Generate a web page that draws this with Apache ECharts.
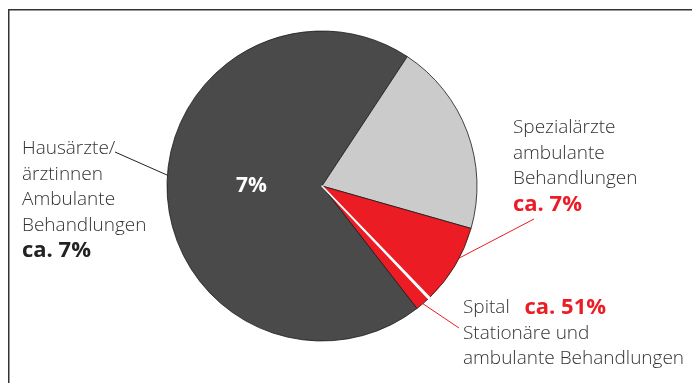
<!DOCTYPE html>
<html>
<head>
<meta charset="utf-8">
<script src="https://cdn.jsdelivr.net/npm/echarts@6/dist/echarts.min.js"></script>
<style>
  html, body { margin: 0; padding: 0; background: #fff; }
  #chart { width: 692px; height: 383px; }
</style>
</head>
<body>
<div id="chart"></div>
<script>
// Slice order runs clockwise, starting with the small hospital sliver.
const sliceNames = ['Spital', 'Hausärzte/ärztinnen', 'Spezialärzte', 'Spezialärzte ambulant', 'Trennlinie'];
const sliceShares = [1.56, 69.77, 20.14, 8.36, 0.17];
const sliceColors = ['#ec1c24', '#4a4a4a', '#cbcbcb', '#ec1c24', '#ffffff'];

// Label texts
const hausLines = ['Hausärzte/', 'ärztinnen', 'Ambulante', 'Behandlungen'];
const hausShare = 'ca. 7%';
const spezLines = ['Spezialärzte', 'ambulante', 'Behandlungen'];
const spezShare = 'ca. 7%';
const spitalTitle = 'Spital';
const spitalShare = 'ca. 51%';
const spitalLines = ['Stationäre und', 'ambulante Behandlungen'];
const innerLabel = '7%';

// Layout
const CX = 322, CY = 186, R = 155;
const START = 90 - 136.6;
const RED = '#ec1c24';
const TEXT = '#333333';
const FONT = '"Open Sans", Lato, sans-serif';

function arcPoint(deg) {
  const a = deg * Math.PI / 180;
  return [CX + R * Math.sin(a), CY - R * Math.cos(a)];
}

// Where each outside label sits and where its guide line touches the pie
const placement = {
  1: { x: 22, y: 136, lineAt: 274, lineEnd: [115, 152], lineColor: '#222' },
  3: { x: 513, y: 115, lineAt: 117.7, lineEnd: [534, 219], lineColor: RED },
  0: { x: 463, y: 295, lineAt: 139.4, lineEnd: [459, 328], lineColor: RED }
};

const rich = {
  t: { fontFamily: FONT, fontSize: 19, fontWeight: 300, color: TEXT, lineHeight: 25.5 },
  b: { fontFamily: FONT, fontSize: 22, fontWeight: 'bold', color: '#222', lineHeight: 25.5 },
  r: { fontFamily: FONT, fontSize: 22, fontWeight: 'bold', color: RED, lineHeight: 25.5 }
};

const labelText = {
  1: hausLines.map(s => '{t|' + s + '}').join('\n') + '\n{b|' + hausShare + '}',
  3: spezLines.map(s => '{t|' + s + '}').join('\n') + '\n{r|' + spezShare + '}',
  0: '{t|' + spitalTitle + '}{t|   }{r|' + spitalShare + '}\n' + spitalLines.map(s => '{t|' + s + '}').join('\n')
};

const data = sliceNames.map((name, i) => {
  const hasLabel = labelText[i] !== undefined;
  const item = {
    name: name,
    value: sliceShares[i],
    itemStyle: { color: sliceColors[i] },
    label: { show: hasLabel },
    labelLine: { show: hasLabel, lineStyle: { color: hasLabel ? placement[i].lineColor : '#000', width: 1 } }
  };
  if (i === 4) {
    item.itemStyle.borderColor = '#ffffff';
    item.itemStyle.borderWidth = 1.5;
  }
  return item;
});

const innerData = sliceNames.map((name, i) => ({
  name: name,
  value: sliceShares[i],
  label: { show: i === 1 }
}));

const chart = echarts.init(document.getElementById('chart'), null, { renderer: 'canvas' });
chart.setOption({
  animation: false,
  backgroundColor: '#ffffff',
  graphic: [{
    type: 'rect',
    shape: { x: 8.75, y: 9.75, width: 800, height: 500 },
    style: { fill: 'none', stroke: '#333333', lineWidth: 1.5 },
    silent: true
  }],
  series: [{
    type: 'pie',
    center: [CX, CY],
    radius: [0, R],
    startAngle: START,
    clockwise: true,
    avoidLabelOverlap: false,
    silent: true,
    itemStyle: { borderColor: '#1a1a1a', borderWidth: 0.8 },
    emphasis: { disabled: true },
    label: {
      position: 'outside',
      formatter: p => labelText[p.dataIndex] || '',
      rich: rich
    },
    labelLine: { length: 10, length2: 10, smooth: false },
    labelLayout: function (p) {
      const cfg = placement[p.dataIndex];
      if (!cfg) return {};
      return {
        x: cfg.x,
        y: cfg.y,
        align: 'left',
        verticalAlign: 'top',
        labelLinePoints: [arcPoint(cfg.lineAt), cfg.lineEnd]
      };
    },
    data: data
  }, {
    type: 'pie',
    center: [CX, CY],
    radius: [0, R],
    startAngle: START,
    clockwise: true,
    silent: true,
    emphasis: { disabled: true },
    itemStyle: { color: 'rgba(0,0,0,0)', borderWidth: 0 },
    label: {
      position: 'inside',
      formatter: () => innerLabel,
      fontFamily: FONT,
      fontSize: 21,
      fontWeight: 'bold',
      color: '#ffffff',
      offset: [10, -3]
    },
    labelLine: { show: false },
    data: innerData
  }]
});
</script>
</body>
</html>
